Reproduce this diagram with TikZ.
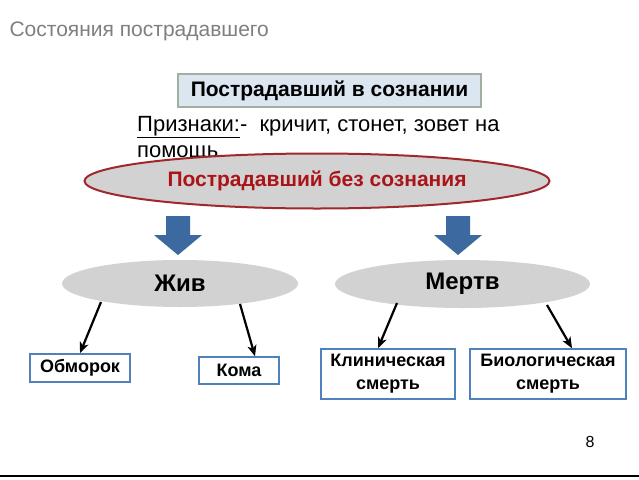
\documentclass[tikz,border=0pt]{standalone}
\usepackage{fontspec}
\setmainfont{Liberation Sans}
\usetikzlibrary{shapes.geometric,arrows.meta}
\definecolor{titlegray}{RGB}{127,127,127}
\definecolor{boxfill}{RGB}{220,230,240}
\definecolor{boxline}{RGB}{160,175,160}
\definecolor{ovalred}{RGB}{160,40,45}
\definecolor{textred}{RGB}{170,20,25}
\definecolor{ovalgray}{RGB}{210,210,210}
\definecolor{arrowblue}{RGB}{60,106,160}
\definecolor{leafblue}{RGB}{79,129,189}
\tikzset{
	oval/.style={ellipse, fill=ovalgray, inner sep=0pt, font=\fontsize{24}{28}\selectfont\bfseries},
	leaf/.style={draw=leafblue, line width=1.5pt, fill=white, align=center, inner sep=0pt,
		font=\fontsize{18}{23}\selectfont\bfseries},
	branch/.style={-{Stealth[length=11pt,width=9pt,inset=3pt]}, line width=2.2pt}
}
\begin{document}
\begin{tikzpicture}[x=1pt,y=-1pt]
		\useasboundingbox[fill=white] (0,0) rectangle (639,479);
		\node (ST) [anchor=west, text=titlegray, font=\fontsize{21}{25}\selectfont] at (6,31)
			{Состояния пострадавшего};
		\node (VS) [draw=boxline, line width=1.2pt, fill=boxfill, minimum width=303pt, minimum height=33pt, inner sep=0pt,
			font=\fontsize{21}{25}\selectfont\bfseries] at (329.5,90.5)
			{Пострадавший в сознании};
		\node (PR) [anchor=north west, align=left, inner sep=0pt, font=\fontsize{22}{26}\selectfont] at (137,116)
			{\underline{Признаки:}-\ \ кричит, стонет, зовет на\\помощь};
		\node (BS) [ellipse, draw=ovalred, line width=2pt, fill=ovalgray, minimum width=465pt, minimum height=55pt, inner sep=0pt,
			text=textred, font=\fontsize{21}{25}\selectfont\bfseries] at (317,181)
			{Пострадавший без сознания};
		% blue block arrows
		\foreach \cx in {178,458}
			\fill [arrowblue] (\cx-12,216) -- (\cx+12,216) -- (\cx+12,235) -- (\cx+24,235)
				-- (\cx,255) -- (\cx-24,235) -- (\cx-12,235) -- cycle;
		\node (ZH) [oval, minimum width=236pt, minimum height=47pt] at (180,283.5) {Жив};
		\node (MT) [oval, minimum width=255pt, minimum height=48pt] at (462.5,284) {Мертв};
		\node (OB) [leaf, minimum width=100pt, minimum height=28pt] at (80,368) {Обморок};
		\node (KO) [leaf, minimum width=80pt, minimum height=27pt] at (239,370.5) {Кома};
		\node (KS) [leaf, minimum width=134pt, minimum height=50pt] at (388,374) {Клиническая\\смерть};
		\node (BI) [leaf, minimum width=156pt, minimum height=50pt] at (548,374) {Биологическая\\смерть};
		\coordinate (ZH1) at (101,302);
		\coordinate (ZH2) at (240,304);
		\coordinate (MT1) at (397,303);
		\coordinate (MT2) at (547,305);
		\draw [branch] (ZH1) to (OB.north);
		\draw [branch] (ZH2) to ([xshift=16pt]KO.north);
		\draw [branch] (MT1) to ([xshift=-10pt]KS.north);
		\draw [branch] (MT2) to ([xshift=24pt]BI.north);
		\node (PG) [font=\fontsize{16}{18}\selectfont] at (590,442) {8};
		\draw [line width=1.5pt] (0,476) -- (639,476);
	\end{tikzpicture}
\end{document}
